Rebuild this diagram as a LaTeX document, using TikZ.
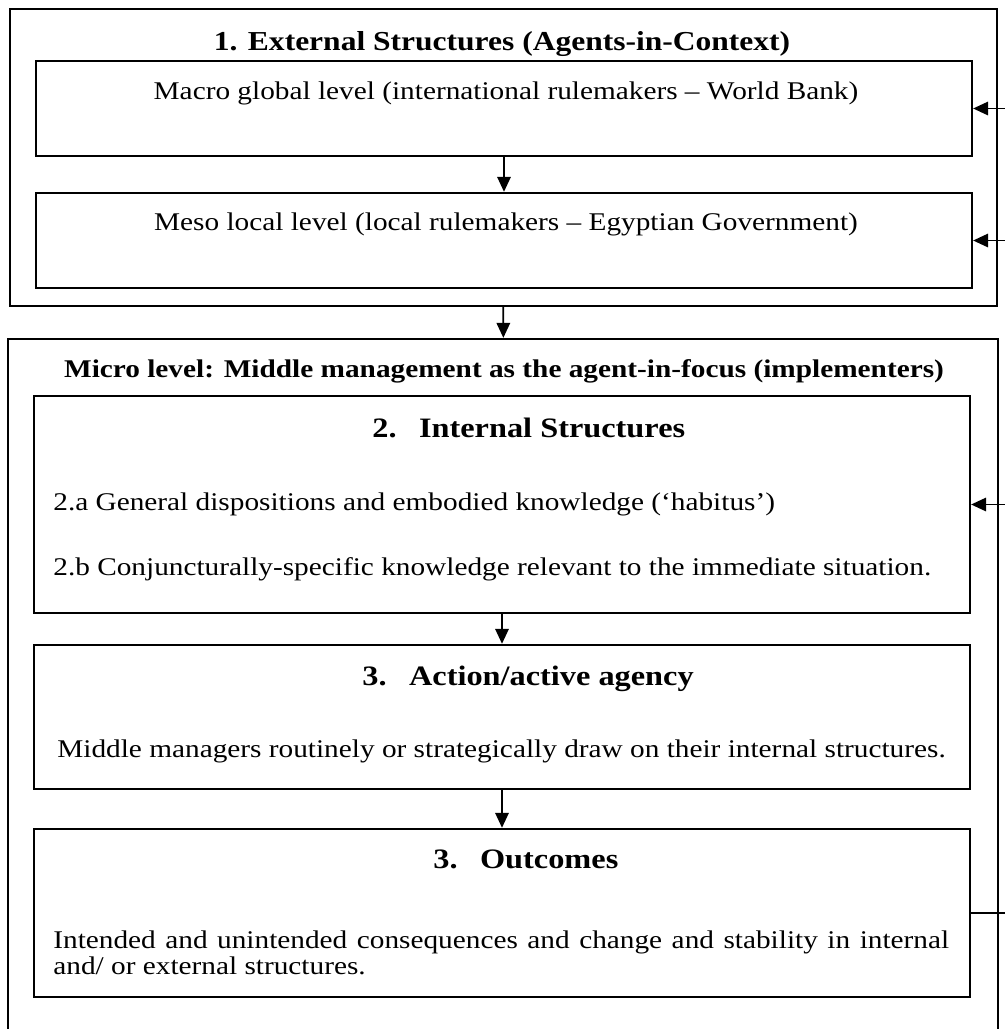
\documentclass[tikz,border=0pt]{standalone}
\usepackage{fontspec}
\setmainfont{Liberation Serif}[FakeStretch=1.15]
\usetikzlibrary{arrows.meta}

\begin{document}
\begin{tikzpicture}[x=0.02cm, y=-0.02cm,
    box/.style={draw=black, line width=1.4pt, inner sep=0pt},
    head/.style={font=\fontsize{14.5}{17}\selectfont\bfseries, anchor=base, inner sep=0pt},
    bighead/.style={font=\fontsize{16}{19}\selectfont\bfseries, anchor=base, inner sep=0pt},
    body/.style={font=\fontsize{14.5}{17}\selectfont, anchor=base, inner sep=0pt},
    flow/.style={-{Triangle[length=0.3cm, width=0.27cm]}, line width=1pt}]
    \useasboundingbox (0,0) rectangle (1005,1029);
    \clip (0,0) rectangle (1005,1029);

    % 1. external structures
    \node[box, minimum width=19.74cm, minimum height=5.94cm] (ext) at (503.5,157.5) {};
    \node[head, font=\fontsize{15.6}{18}\selectfont\bfseries] (exttitle) at (502,50) {1. External Structures (Agents-in-Context)};
    \node[box, minimum width=18.72cm, minimum height=1.9cm] (macro) at (504,108.5) {};
    \node[body] (macrotext) at (506,99) {Macro global level (international rulemakers – World Bank)};
    \node[box, minimum width=18.72cm, minimum height=1.9cm] (meso) at (504,240.5) {};
    \node[body] (mesotext) at (506,230) {Meso local level (local rulemakers – Egyptian Government)};

    % micro level
    \node[box, minimum width=19.8cm, minimum height=14.12cm] (micro) at (503,692) {};
    \node[head] (microtitle) at (504,377) {Micro level: Middle management as the agent-in-focus (implementers)};

    % 2. internal structures
    \node[box, minimum width=18.72cm, minimum height=4.34cm] (internal) at (502,504.5) {};
    \node[bighead, anchor=base west] (inttitle) at (372,437) {2.\hspace{0.8em}Internal Structures};
    \node[body, anchor=base west] (habitus) at (53,510) {2.a General dispositions and embodied knowledge (‘habitus’)};
    \node[body, anchor=base west] (conj) at (53,575) {2.b Conjuncturally-specific knowledge relevant to the immediate situation.};

    % 3. action
    \node[box, minimum width=18.72cm, minimum height=2.88cm] (action) at (502,717) {};
    \node[bighead, anchor=base west] (acttitle) at (362,685) {3.\hspace{0.8em}Action/active agency};
    \node[body, anchor=base west] (acttext) at (57,757) {Middle managers routinely or strategically draw on their internal structures.};

    % 3. outcomes
    \node[box, minimum width=18.72cm, minimum height=3.36cm] (outcomes) at (502,913) {};
    \node[bighead, anchor=base west] (outtitle) at (433,868) {3.\hspace{0.8em}Outcomes};
    \node[body, anchor=north west, text width=17.92cm, align=justify,
          font=\fontsize{14.5}{15.2}\selectfont] (outtext) at (53,930)
        {Intended and unintended consequences and change and stability in internal\linebreak and/ or external structures.};

    \path[flow] (macro) edge (meso);
    \path[flow] (ext) edge (micro);
    \path[flow] (internal) edge (action);
    \path[flow] (action) edge (outcomes);

    % feedback loop
    \coordinate (loop) at (1012,913);
    \draw[line width=1pt] (outcomes.east) -- (loop);
    \draw[flow] (loop) |- (macro.east);
    \draw[flow] (loop) |- (meso.east);
    \draw[flow] (loop) |- (internal.east);
\end{tikzpicture}
\end{document}
